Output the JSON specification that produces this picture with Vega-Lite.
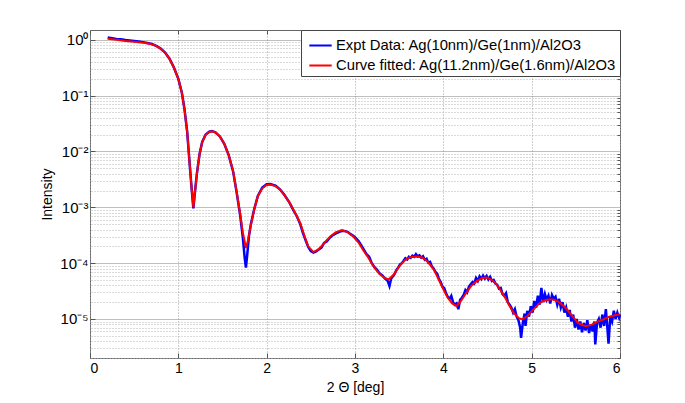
{
  "$schema": "https://vega.github.io/schema/vega-lite/v6.json",
  "width": 530,
  "height": 328,
  "autosize": {"type": "none"},
  "padding": {"left": 90, "top": 30, "right": 65, "bottom": 45},
  "background": "white",
  "config": {
    "view": {"stroke": "#666666", "strokeWidth": 1},
    "font": "Liberation Sans",
    "axis": {"labelFont": "Liberation Sans", "titleFont": "Liberation Sans", "labelColor": "#000000", "titleColor": "#000000", "titleFontWeight": "normal", "domain": false, "tickColor": "#555555"}
  },
  "datasets": {
    "expt": [
      {"theta":0.20,"intensity":1.10},{"theta":0.25,"intensity":1.07},{"theta":0.30,"intensity":1.04},{"theta":0.35,"intensity":1.02},{"theta":0.40,"intensity":0.99},{"theta":0.45,"intensity":0.97},{"theta":0.50,"intensity":0.95},{"theta":0.55,"intensity":0.93},{"theta":0.60,"intensity":0.91},{"theta":0.65,"intensity":0.88},{"theta":0.70,"intensity":0.84},{"theta":0.75,"intensity":0.78},{"theta":0.80,"intensity":0.70},{"theta":0.85,"intensity":0.59},{"theta":0.90,"intensity":0.46},{"theta":0.95,"intensity":0.32},{"theta":1.00,"intensity":0.20},{"theta":1.04,"intensity":0.113},{"theta":1.07,"intensity":0.057},{"theta":1.10,"intensity":0.0226},{"theta":1.13,"intensity":5.5e-3},{"theta":1.15,"intensity":2.2e-3},{"theta":1.17,"intensity":9.6e-4},{"theta":1.19,"intensity":2.0e-3},{"theta":1.21,"intensity":4.0e-3},{"theta":1.24,"intensity":8.9e-3},{"theta":1.27,"intensity":0.0148},{"theta":1.31,"intensity":0.0202},{"theta":1.35,"intensity":0.0226},{"theta":1.38,"intensity":0.0232},{"theta":1.42,"intensity":0.0221},{"theta":1.47,"intensity":0.0186},{"theta":1.52,"intensity":0.0137},{"theta":1.57,"intensity":8.6e-3},{"theta":1.62,"intensity":4.4e-3},{"theta":1.66,"intensity":1.85e-3},{"theta":1.70,"intensity":7.2e-4},{"theta":1.73,"intensity":2.9e-4},{"theta":1.75,"intensity":1.3e-4},{"theta":1.765,"intensity":8.3e-5},{"theta":1.78,"intensity":1.4e-4},{"theta":1.80,"intensity":3.1e-4},{"theta":1.82,"intensity":4.9e-4},{"theta":1.86,"intensity":9.4e-4},{"theta":1.90,"intensity":1.6e-3},{"theta":1.95,"intensity":2.25e-3},{"theta":2.00,"intensity":2.6e-3},{"theta":2.04,"intensity":2.62e-3},{"theta":2.10,"intensity":2.45e-3},{"theta":2.15,"intensity":2.1e-3},{"theta":2.20,"intensity":1.68e-3},{"theta":2.26,"intensity":1.2e-3},{"theta":2.30,"intensity":9.0e-4},{"theta":2.34,"intensity":7.0e-4},{"theta":2.38,"intensity":5.0e-4},{"theta":2.41,"intensity":3.5e-4},{"theta":2.44,"intensity":2.6e-4},{"theta":2.47,"intensity":1.95e-4},{"theta":2.50,"intensity":1.65e-4},{"theta":2.53,"intensity":1.55e-4},{"theta":2.56,"intensity":1.62e-4},{"theta":2.59,"intensity":1.75e-4},{"theta":2.62,"intensity":1.9e-4},{"theta":2.65,"intensity":2.3e-4},{"theta":2.68,"intensity":2.45e-4},{"theta":2.71,"intensity":2.8e-4},{"theta":2.74,"intensity":3.1e-4},{"theta":2.77,"intensity":3.3e-4},{"theta":2.80,"intensity":3.5e-4},{"theta":2.83,"intensity":3.7e-4},{"theta":2.86,"intensity":3.8e-4},{"theta":2.89,"intensity":3.75e-4},{"theta":2.92,"intensity":3.6e-4},{"theta":2.95,"intensity":3.3e-4},{"theta":2.98,"intensity":3.1e-4},{"theta":3.01,"intensity":2.8e-4},{"theta":3.04,"intensity":2.5e-4},{"theta":3.07,"intensity":2.1e-4},{"theta":3.10,"intensity":1.75e-4},{"theta":3.13,"intensity":1.45e-4},{"theta":3.16,"intensity":1.3e-4},{"theta":3.19,"intensity":1.0e-4},{"theta":3.22,"intensity":8.5e-5},{"theta":3.25,"intensity":7.6e-5},{"theta":3.28,"intensity":6.5e-5},{"theta":3.31,"intensity":6.0e-5},{"theta":3.34,"intensity":5.3e-5},{"theta":3.37,"intensity":4.8e-5},{"theta":3.39,"intensity":3.9e-5},{"theta":3.41,"intensity":5.3e-5},{"theta":3.43,"intensity":5.8e-5},{"theta":3.45,"intensity":6.5e-5},{"theta":3.47,"intensity":7.6e-5},{"theta":3.49,"intensity":8.4e-5},{"theta":3.51,"intensity":9.5e-5},{"theta":3.53,"intensity":1.0e-4},{"theta":3.55,"intensity":1.1e-4},{"theta":3.57,"intensity":1.22e-4},{"theta":3.59,"intensity":1.16e-4},{"theta":3.61,"intensity":1.3e-4},{"theta":3.63,"intensity":1.24e-4},{"theta":3.65,"intensity":1.36e-4},{"theta":3.67,"intensity":1.3e-4},{"theta":3.69,"intensity":1.45e-4},{"theta":3.71,"intensity":1.32e-4},{"theta":3.73,"intensity":1.38e-4},{"theta":3.75,"intensity":1.25e-4},{"theta":3.77,"intensity":1.33e-4},{"theta":3.79,"intensity":1.15e-4},{"theta":3.81,"intensity":1.2e-4},{"theta":3.83,"intensity":1.02e-4},{"theta":3.85,"intensity":1.05e-4},{"theta":3.87,"intensity":8.7e-5},{"theta":3.89,"intensity":8.0e-5},{"theta":3.91,"intensity":7.0e-5},{"theta":3.93,"intensity":6.5e-5},{"theta":3.95,"intensity":5.2e-5},{"theta":3.97,"intensity":4.6e-5},{"theta":3.99,"intensity":3.8e-5},{"theta":4.01,"intensity":3.6e-5},{"theta":4.03,"intensity":2.9e-5},{"theta":4.05,"intensity":2.5e-5},{"theta":4.07,"intensity":2.3e-5},{"theta":4.09,"intensity":2.6e-5},{"theta":4.11,"intensity":2.0e-5},{"theta":4.13,"intensity":1.8e-5},{"theta":4.15,"intensity":1.9e-5},{"theta":4.17,"intensity":1.5e-5},{"theta":4.19,"intensity":2.2e-5},{"theta":4.21,"intensity":2.4e-5},{"theta":4.23,"intensity":2.7e-5},{"theta":4.25,"intensity":3.3e-5},{"theta":4.27,"intensity":3.0e-5},{"theta":4.29,"intensity":3.8e-5},{"theta":4.31,"intensity":4.2e-5},{"theta":4.33,"intensity":4.6e-5},{"theta":4.35,"intensity":4.3e-5},{"theta":4.37,"intensity":5.4e-5},{"theta":4.39,"intensity":4.8e-5},{"theta":4.41,"intensity":5.8e-5},{"theta":4.43,"intensity":5.2e-5},{"theta":4.45,"intensity":6.0e-5},{"theta":4.47,"intensity":5.3e-5},{"theta":4.49,"intensity":5.9e-5},{"theta":4.51,"intensity":5.1e-5},{"theta":4.53,"intensity":5.7e-5},{"theta":4.55,"intensity":4.8e-5},{"theta":4.57,"intensity":5.0e-5},{"theta":4.59,"intensity":4.3e-5},{"theta":4.61,"intensity":4.1e-5},{"theta":4.63,"intensity":3.5e-5},{"theta":4.65,"intensity":3.6e-5},{"theta":4.67,"intensity":2.8e-5},{"theta":4.69,"intensity":2.6e-5},{"theta":4.71,"intensity":2.9e-5},{"theta":4.73,"intensity":2.0e-5},{"theta":4.75,"intensity":1.8e-5},{"theta":4.77,"intensity":1.6e-5},{"theta":4.79,"intensity":1.3e-5},{"theta":4.81,"intensity":1.5e-5},{"theta":4.83,"intensity":1.1e-5},{"theta":4.85,"intensity":9.5e-6},{"theta":4.87,"intensity":7.0e-6},{"theta":4.88,"intensity":4.6e-6},{"theta":4.90,"intensity":8.5e-6},{"theta":4.92,"intensity":1.25e-5},{"theta":4.93,"intensity":7.5e-6},{"theta":4.95,"intensity":1.4e-5},{"theta":4.97,"intensity":1.1e-5},{"theta":4.99,"intensity":1.7e-5},{"theta":5.01,"intensity":1.3e-5},{"theta":5.03,"intensity":2.1e-5},{"theta":5.05,"intensity":1.6e-5},{"theta":5.07,"intensity":2.6e-5},{"theta":5.09,"intensity":1.8e-5},{"theta":5.11,"intensity":3.6e-5},{"theta":5.13,"intensity":2.0e-5},{"theta":5.15,"intensity":2.8e-5},{"theta":5.17,"intensity":2.2e-5},{"theta":5.19,"intensity":2.6e-5},{"theta":5.21,"intensity":1.9e-5},{"theta":5.23,"intensity":2.7e-5},{"theta":5.25,"intensity":2.3e-5},{"theta":5.27,"intensity":2.5e-5},{"theta":5.29,"intensity":1.8e-5},{"theta":5.31,"intensity":2.3e-5},{"theta":5.33,"intensity":1.6e-5},{"theta":5.35,"intensity":2.0e-5},{"theta":5.37,"intensity":1.3e-5},{"theta":5.39,"intensity":1.6e-5},{"theta":5.41,"intensity":1.1e-5},{"theta":5.43,"intensity":1.45e-5},{"theta":5.45,"intensity":9.0e-6},{"theta":5.47,"intensity":1.2e-5},{"theta":5.49,"intensity":7.0e-6},{"theta":5.51,"intensity":1.0e-5},{"theta":5.53,"intensity":6.5e-6},{"theta":5.55,"intensity":9.0e-6},{"theta":5.57,"intensity":5.8e-6},{"theta":5.59,"intensity":8.5e-6},{"theta":5.61,"intensity":6.2e-6},{"theta":5.63,"intensity":9.5e-6},{"theta":5.65,"intensity":5.6e-6},{"theta":5.67,"intensity":8.0e-6},{"theta":5.69,"intensity":6.0e-6},{"theta":5.71,"intensity":9.0e-6},{"theta":5.72,"intensity":3.5e-6},{"theta":5.74,"intensity":8.5e-6},{"theta":5.76,"intensity":1.0e-5},{"theta":5.78,"intensity":7.0e-6},{"theta":5.80,"intensity":1.2e-5},{"theta":5.82,"intensity":7.5e-6},{"theta":5.84,"intensity":1.5e-5},{"theta":5.86,"intensity":6.0e-6},{"theta":5.87,"intensity":3.6e-6},{"theta":5.89,"intensity":1.1e-5},{"theta":5.91,"intensity":9.0e-6},{"theta":5.93,"intensity":1.4e-5},{"theta":5.95,"intensity":1.0e-5},{"theta":5.97,"intensity":1.3e-5},{"theta":5.99,"intensity":1.05e-5},{"theta":6.00,"intensity":1.2e-5}
    ],
    "fit": [
      {"theta":0.20,"intensity":1.05},{"theta":0.30,"intensity":1.0},{"theta":0.40,"intensity":0.955},{"theta":0.50,"intensity":0.92},{"theta":0.60,"intensity":0.89},{"theta":0.68,"intensity":0.85},{"theta":0.75,"intensity":0.78},{"theta":0.80,"intensity":0.69},{"theta":0.85,"intensity":0.59},{"theta":0.90,"intensity":0.457},{"theta":0.95,"intensity":0.316},{"theta":1.00,"intensity":0.20},{"theta":1.04,"intensity":0.112},{"theta":1.07,"intensity":0.056},{"theta":1.10,"intensity":0.0224},{"theta":1.13,"intensity":5.6e-3},{"theta":1.15,"intensity":2.24e-3},{"theta":1.17,"intensity":1.0e-3},{"theta":1.19,"intensity":2.0e-3},{"theta":1.21,"intensity":3.98e-3},{"theta":1.24,"intensity":8.9e-3},{"theta":1.27,"intensity":0.0148},{"theta":1.31,"intensity":0.020},{"theta":1.35,"intensity":0.0224},{"theta":1.38,"intensity":0.0229},{"theta":1.42,"intensity":0.0219},{"theta":1.47,"intensity":0.0186},{"theta":1.52,"intensity":0.0138},{"theta":1.57,"intensity":8.7e-3},{"theta":1.62,"intensity":4.5e-3},{"theta":1.66,"intensity":1.9e-3},{"theta":1.70,"intensity":7.6e-4},{"theta":1.73,"intensity":3.55e-4},{"theta":1.766,"intensity":1.86e-4},{"theta":1.79,"intensity":2.63e-4},{"theta":1.82,"intensity":4.7e-4},{"theta":1.86,"intensity":9.3e-4},{"theta":1.90,"intensity":1.58e-3},{"theta":1.95,"intensity":2.19e-3},{"theta":2.00,"intensity":2.51e-3},{"theta":2.04,"intensity":2.57e-3},{"theta":2.10,"intensity":2.4e-3},{"theta":2.15,"intensity":2.09e-3},{"theta":2.20,"intensity":1.66e-3},{"theta":2.26,"intensity":1.2e-3},{"theta":2.32,"intensity":8.1e-4},{"theta":2.38,"intensity":5.25e-4},{"theta":2.43,"intensity":3.0e-4},{"theta":2.47,"intensity":2.0e-4},{"theta":2.53,"intensity":1.58e-4},{"theta":2.58,"intensity":1.74e-4},{"theta":2.62,"intensity":2.0e-4},{"theta":2.68,"intensity":2.57e-4},{"theta":2.72,"intensity":3.0e-4},{"theta":2.78,"intensity":3.55e-4},{"theta":2.85,"intensity":3.9e-4},{"theta":2.92,"intensity":3.55e-4},{"theta":2.98,"intensity":3.0e-4},{"theta":3.04,"intensity":2.34e-4},{"theta":3.09,"intensity":1.74e-4},{"theta":3.15,"intensity":1.26e-4},{"theta":3.21,"intensity":8.7e-5},{"theta":3.27,"intensity":6.6e-5},{"theta":3.33,"intensity":5.5e-5},{"theta":3.38,"intensity":5.1e-5},{"theta":3.44,"intensity":6.3e-5},{"theta":3.51,"intensity":9.1e-5},{"theta":3.57,"intensity":1.15e-4},{"theta":3.63,"intensity":1.29e-4},{"theta":3.70,"intensity":1.32e-4},{"theta":3.76,"intensity":1.26e-4},{"theta":3.82,"intensity":1.07e-4},{"theta":3.89,"intensity":7.8e-5},{"theta":3.95,"intensity":5.0e-5},{"theta":4.00,"intensity":3.4e-5},{"theta":4.05,"intensity":2.4e-5},{"theta":4.10,"intensity":1.9e-5},{"theta":4.15,"intensity":1.7e-5},{"theta":4.20,"intensity":2.1e-5},{"theta":4.26,"intensity":2.95e-5},{"theta":4.32,"intensity":4.0e-5},{"theta":4.38,"intensity":4.8e-5},{"theta":4.44,"intensity":5.4e-5},{"theta":4.49,"intensity":5.5e-5},{"theta":4.55,"intensity":5.0e-5},{"theta":4.60,"intensity":4.2e-5},{"theta":4.64,"intensity":3.4e-5},{"theta":4.70,"intensity":2.4e-5},{"theta":4.75,"intensity":1.7e-5},{"theta":4.80,"intensity":1.26e-5},{"theta":4.85,"intensity":1.05e-5},{"theta":4.89,"intensity":9.8e-6},{"theta":4.95,"intensity":1.12e-5},{"theta":5.02,"intensity":1.48e-5},{"theta":5.08,"intensity":1.86e-5},{"theta":5.13,"intensity":2.1e-5},{"theta":5.19,"intensity":2.24e-5},{"theta":5.245,"intensity":2.24e-5},{"theta":5.30,"intensity":2.04e-5},{"theta":5.35,"intensity":1.78e-5},{"theta":5.40,"intensity":1.48e-5},{"theta":5.46,"intensity":1.12e-5},{"theta":5.52,"intensity":8.7e-6},{"theta":5.57,"intensity":7.8e-6},{"theta":5.62,"intensity":7.4e-6},{"theta":5.68,"intensity":7.9e-6},{"theta":5.74,"intensity":8.9e-6},{"theta":5.81,"intensity":9.8e-6},{"theta":5.88,"intensity":1.1e-5},{"theta":5.94,"intensity":1.17e-5},{"theta":6.00,"intensity":1.2e-5}
    ]
  },
  "layer": [
    {
      "data": {"name": "fit"},
      "mark": {"type": "line", "strokeOpacity": 0},
      "encoding": {
        "x": {"field": "theta", "type": "quantitative", "scale": {"domain": [0, 6], "nice": false, "zero": false},
              "axis": {"orient": "top", "values": [0,1,2,3,4,5,6], "labels": false, "grid": false, "ticks": true, "tickSize": -4, "title": null}},
        "y": {"field": "intensity", "type": "quantitative", "scale": {"type": "log", "domain": [2e-6, 1.5], "nice": false},
              "axis": {"orient": "right", "values": [2e-6,3e-6,4e-6,5e-6,6e-6,7e-6,8e-6,9e-6,2e-5,3e-5,4e-5,5e-5,6e-5,7e-5,8e-5,9e-5,2e-4,3e-4,4e-4,5e-4,6e-4,7e-4,8e-4,9e-4,2e-3,3e-3,4e-3,5e-3,6e-3,7e-3,8e-3,9e-3,0.02,0.03,0.04,0.05,0.06,0.07,0.08,0.09,0.2,0.3,0.4,0.5,0.6,0.7,0.8,0.9],
                       "labels": false, "grid": true, "gridColor": "#b4b4b4", "gridDash": [1, 2], "gridWidth": 1, "ticks": true, "tickSize": -3, "title": null}}
      }
    },
    {
      "data": {"name": "expt"},
      "mark": {"type": "line", "strokeWidth": 2.5},
      "encoding": {
        "x": {"field": "theta", "type": "quantitative", "scale": {"domain": [0, 6], "nice": false, "zero": false},
              "axis": {"orient": "bottom", "values": [0,1,2,3,4,5,6], "grid": true, "gridColor": "#a0a0a0", "gridDash": [1, 2], "tickSize": -5, "labelPadding": 8, "labelFontSize": 14, "title": "2 Θ [deg]", "titleFontSize": 14, "titlePadding": 5}},
        "y": {"field": "intensity", "type": "quantitative", "scale": {"type": "log", "domain": [2e-6, 1.5], "nice": false},
              "axis": {"orient": "left", "values": [1e-5, 1e-4, 1e-3, 1e-2, 0.1, 1], "grid": true, "gridColor": "#808080", "gridDash": [1, 1], "tickSize": -5, "labelPadding": 7, "labelFontSize": 15,
                       "labelExpr": "['10⁰','10⁻¹','10⁻²','10⁻³','10⁻⁴','10⁻⁵'][round(-log(datum.value)/LN10)]",
                       "title": "Intensity", "titleFontSize": 14, "titlePadding": 5}},
        "color": {"datum": "expt", "type": "nominal",
                  "scale": {"domain": ["expt", "fit"], "range": ["#0000ff", "#ff0000"]},
                  "legend": {"title": null, "orient": "top-right", "offset": 0,
                             "labelExpr": "datum.label == 'expt' ? 'Expt Data: Ag(10nm)/Ge(1nm)/Al2O3' : 'Curve fitted: Ag(11.2nm)/Ge(1.6nm)/Al2O3'",
                             "labelFont": "Liberation Sans", "labelFontSize": 14.8, "labelLimit": 500, "labelColor": "#000000",
                             "symbolType": "stroke", "symbolSize": 500, "symbolStrokeWidth": 2, "symbolOffset": 4, "labelOffset": 3,
                             "fillColor": "#ffffff", "strokeColor": "#444444", "padding": 3, "rowPadding": 0, "cornerRadius": 0}}
      }
    },
    {
      "data": {"name": "fit"},
      "mark": {"type": "line", "strokeWidth": 2},
      "encoding": {
        "x": {"field": "theta", "type": "quantitative", "axis": null},
        "y": {"field": "intensity", "type": "quantitative", "axis": null},
        "color": {"datum": "fit", "type": "nominal"}
      }
    }
  ],
  "resolve": {"axis": {"x": "independent", "y": "independent"}}
}
